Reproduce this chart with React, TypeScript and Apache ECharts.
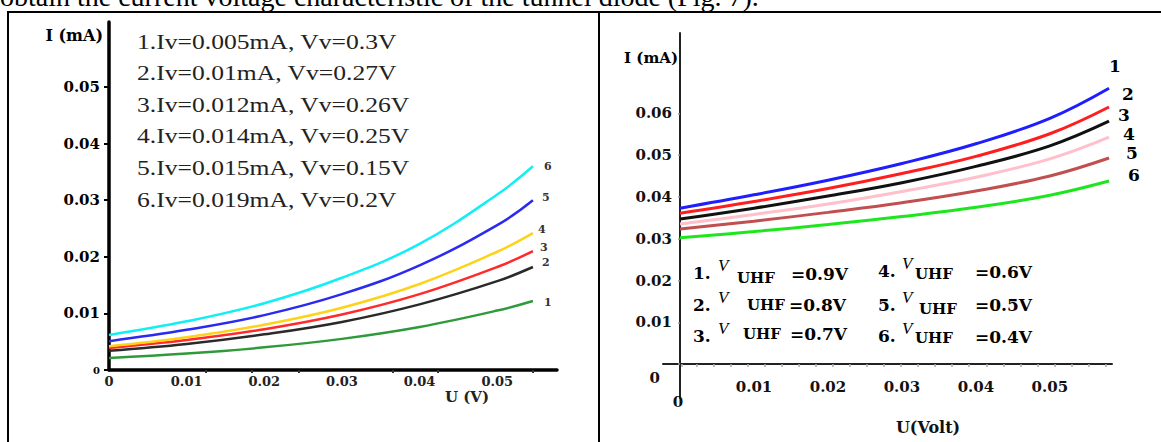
import React, { useEffect, useRef } from "react";
import * as echarts from "echarts";

// ---------- DATA ----------
const pageText = "obtain the current voltage characteristic of the tunnel diode (Fig. 7).";

// Left chart (U in V, I in mA)
const leftU = [0, 0.01, 0.02, 0.03, 0.04, 0.05, 0.0546];
const leftCurve1 = [0.0021, 0.0029, 0.004, 0.0055, 0.0076, 0.0105, 0.0122];
const leftCurve2 = [0.0034, 0.0046, 0.0063, 0.0085, 0.0116, 0.0157, 0.0182];
const leftCurve3 = [0.0039, 0.0053, 0.0072, 0.0098, 0.0134, 0.0182, 0.021];
const leftCurve4 = [0.0042, 0.0058, 0.008, 0.011, 0.0152, 0.0209, 0.0242];
const leftCurve5 = [0.0051, 0.0071, 0.0097, 0.0134, 0.0185, 0.0256, 0.03];
const leftCurve6 = [0.0062, 0.0086, 0.0118, 0.0163, 0.0223, 0.031, 0.036];
const leftCurveNames = ["1", "2", "3", "4", "5", "6"];
const leftLegend = [
  "1.Iv=0.005mA, Vv=0.3V",
  "2.Iv=0.01mA, Vv=0.27V",
  "3.Iv=0.012mA, Vv=0.26V",
  "4.Iv=0.014mA, Vv=0.25V",
  "5.Iv=0.015mA, Vv=0.15V",
  "6.Iv=0.019mA, Vv=0.2V",
];
const leftXLabels = [0, 0.01, 0.02, 0.03, 0.04, 0.05];
const leftXTickMarks = [0.0124, 0.0184, 0.0245, 0.0366, 0.0424, 0.0546];
const leftYLabels = [0, 0.01, 0.02, 0.03, 0.04, 0.05];
const leftYName = "I (mA)";
const leftXName = "U (V)";

// Right chart
const rightU = [0, 0.01, 0.02, 0.03, 0.04, 0.05, 0.058];
const rightCurve1 = [0.0373, 0.0405, 0.044, 0.048, 0.0527, 0.0588, 0.066];
const rightCurve2 = [0.0361, 0.0389, 0.042, 0.0456, 0.0497, 0.0551, 0.0615];
const rightCurve3 = [0.0347, 0.0373, 0.0402, 0.0434, 0.0473, 0.0522, 0.0581];
const rightCurve4 = [0.0335, 0.0358, 0.0383, 0.0413, 0.0447, 0.0491, 0.0543];
const rightCurve5 = [0.0323, 0.0342, 0.0363, 0.0386, 0.0414, 0.045, 0.0493];
const rightCurve6 = [0.0302, 0.0317, 0.0334, 0.0353, 0.0375, 0.0404, 0.0438];
const rightCurveNames = ["1", "2", "3", "4", "5", "6"];
const rightLegendNums = ["1.", "2.", "3.", "4.", "5.", "6."];
const rightLegendSymbol = "V";
const rightLegendSub = "UHF";
const rightLegendValues = ["=0.9V", "=0.8V", "=0.7V", "=0.6V", "=0.5V", "=0.4V"];
const rightXLabels = [0, 0.01, 0.02, 0.03, 0.04, 0.05];
const rightXTickMarks = [
  0.0003, 0.0023, 0.0046, 0.0069, 0.0092, 0.0115, 0.0138, 0.0161, 0.0184, 0.0207,
  0.023, 0.0253, 0.0276, 0.0299, 0.0322, 0.0345, 0.0368, 0.0391, 0.0414, 0.0437,
  0.046, 0.0483, 0.0506, 0.0529, 0.0552, 0.0575,
];
const rightYLabels = [0, 0.01, 0.02, 0.03, 0.04, 0.05, 0.06];
const rightYName = "I (mA)";
const rightXName = "U(Volt)";

// ---------- STYLE / LAYOUT ----------
const leftColors = ["#2f9a3a", "#2a2a2a", "#ff2a2a", "#ffd21a", "#2a2af0", "#12eef6"];
const rightColors = ["#1e1eff", "#ff1e1e", "#111111", "#ffc0cb", "#c05050", "#1ee61e"];
const leftLabelOffsets = [[6, 2], [4, -5], [2, -4], [0, -4], [4, -3], [6, 0]];
const rightLabelOffsets = [[-5, -22], [8, -13], [4, -6], [9, -3], [12, -5], [14, -6]];
const rightLegendLayout = [
  { nx: 693, ny: 273, vx: 718, vy: 265, ux: 737, uy: 278, ex: 791, ey: 274 },
  { nx: 693, ny: 305, vx: 718, vy: 297, ux: 747, uy: 305, ex: 789, ey: 305 },
  { nx: 693, ny: 336, vx: 718, vy: 328, ux: 743, uy: 334, ex: 790, ey: 334 },
  { nx: 878, ny: 271, vx: 902, vy: 263, ux: 915, uy: 274, ex: 975, ey: 272 },
  { nx: 878, ny: 305, vx: 902, vy: 297, ux: 919, uy: 309, ex: 975, ey: 305 },
  { nx: 878, ny: 336, vx: 902, vy: 328, ux: 915, uy: 338, ex: 975, ey: 337 },
];
const SERIF_B = "DejaVu Serif";

export default function App() {
  const ref = useRef<HTMLDivElement>(null);

  useEffect(() => {
    if (!ref.current) return;
    const chart = echarts.init(ref.current, undefined, { renderer: "svg" });

    const leftCurves = [leftCurve1, leftCurve2, leftCurve3, leftCurve4, leftCurve5, leftCurve6];
    const rightCurves = [rightCurve1, rightCurve2, rightCurve3, rightCurve4, rightCurve5, rightCurve6];

    const makeSeries = (
      curves: number[][], xs: number[], names: string[], colors: string[],
      offsets: number[][], idx: number, width: number, labelStyle: any
    ) =>
      curves.map((ys, i) => ({
        name: names[i],
        type: "line",
        xAxisIndex: idx,
        yAxisIndex: idx,
        smooth: 0.4,
        symbol: "circle",
        symbolSize: 0,
        showSymbol: true,
        silent: true,
        lineStyle: { color: colors[i], width },
        itemStyle: { color: colors[i] },
        label: { show: false },
        emphasis: { disabled: true },
        data: ys.map((y, j) =>
          j === ys.length - 1
            ? {
                value: [xs[j], y],
                label: {
                  show: true,
                  position: "right",
                  distance: 5,
                  offset: offsets[i],
                  formatter: names[i],
                  ...labelStyle,
                },
              }
            : [xs[j], y]
        ),
      }));

    const graphics: any[] = [];
    graphics.push({
      type: "text", x: 0, y: -4,
      style: { text: pageText, fontFamily: "Liberation Serif", fontSize: 28, fill: "#000", align: "left", verticalAlign: "middle" },
    });
    graphics.push({ type: "line", shape: { x1: 7, y1: 12, x2: 1161, y2: 12 }, style: { stroke: "#000", lineWidth: 2 } });
    graphics.push({ type: "line", shape: { x1: 8, y1: 11, x2: 8, y2: 442 }, style: { stroke: "#000", lineWidth: 2 } });
    graphics.push({ type: "line", shape: { x1: 599, y1: 11, x2: 599, y2: 442 }, style: { stroke: "#000", lineWidth: 2 } });

    leftLegend.forEach((t, i) => {
      graphics.push({
        type: "text", x: 137, y: 42 + i * 31.6, scaleX: 1.28,
        style: { text: t, fontFamily: "Liberation Serif", fontSize: 20, fill: "#222", align: "left", verticalAlign: "middle" },
      });
    });

    rightLegendNums.forEach((n, i) => {
      const L = rightLegendLayout[i];
      graphics.push({ type: "text", x: L.nx, y: L.ny, style: { text: n, fontFamily: SERIF_B, fontWeight: "bold", fontSize: 17, fill: "#000", align: "left", verticalAlign: "middle" } });
      graphics.push({ type: "text", x: L.vx, y: L.vy, style: { text: rightLegendSymbol, fontFamily: "Liberation Serif", fontStyle: "italic", fontSize: 17, fill: "#000", align: "left", verticalAlign: "middle" } });
      graphics.push({ type: "text", x: L.ux, y: L.uy, style: { text: rightLegendSub, fontFamily: SERIF_B, fontWeight: "bold", fontSize: 15, fill: "#000", align: "left", verticalAlign: "middle" } });
      graphics.push({ type: "text", x: L.ex, y: L.ey, style: { text: rightLegendValues[i], fontFamily: SERIF_B, fontWeight: "bold", fontSize: 17, fill: "#000", align: "left", verticalAlign: "middle" } });
    });

    graphics.push({ type: "text", x: 103, y: 35, style: { text: leftYName, fontFamily: SERIF_B, fontWeight: "bold", fontSize: 16, fill: "#000", align: "right", verticalAlign: "middle" } });
    graphics.push({ type: "text", x: 467, y: 397, style: { text: leftXName, fontFamily: SERIF_B, fontWeight: "bold", fontSize: 15, fill: "#222", align: "center", verticalAlign: "middle" } });
    graphics.push({ type: "text", x: 678, y: 58, style: { text: rightYName, fontFamily: SERIF_B, fontWeight: "bold", fontSize: 15, fill: "#000", align: "right", verticalAlign: "middle" } });
    graphics.push({ type: "text", x: 928, y: 427, style: { text: rightXName, fontFamily: SERIF_B, fontWeight: "bold", fontSize: 16, fill: "#111", align: "center", verticalAlign: "middle" } });

    const fmt2 = (v: number) => v.toFixed(2);

    chart.setOption({
      animation: false,
      backgroundColor: "#fff",
      graphic: graphics,
      grid: [
        { left: 109, top: 22, width: 448, height: 348, containLabel: false, outerBoundsMode: "none" },
        { left: 663, top: 33, width: 449, height: 365, containLabel: false, outerBoundsMode: "none" },
      ],
      xAxis: [
        {
          gridIndex: 0, type: "value", min: 0, max: 0.0577,
          splitLine: { show: false },
          axisLine: { lineStyle: { color: "#000", width: 3.5 } },
          axisTick: { show: true, customValues: leftXTickMarks, length: 3, lineStyle: { color: "#333", width: 2 } },
          axisLabel: {
            customValues: leftXLabels, margin: 5, color: "#222",
            fontFamily: SERIF_B, fontWeight: "bold", fontSize: 13,
            formatter: (v: number) => (v === 0 ? "0" : fmt2(v)),
          },
        },
        {
          gridIndex: 1, type: "value", min: -0.0023, max: 0.0584,
          position: "bottom", offset: -34,
          splitLine: { show: false },
          axisLine: { onZero: false, lineStyle: { color: "#222", width: 2 } },
          axisTick: { show: true, customValues: rightXTickMarks, length: 3, lineStyle: { color: "#aaa", width: 1.5 } },
          axisLabel: {
            customValues: rightXLabels, margin: 15, color: "#111",
            fontFamily: SERIF_B, fontWeight: "bold", fontSize: 15,
            formatter: (v: number) => (v === 0 ? "{z|0}" : fmt2(v)),
            rich: { z: { padding: [15, 4, 0, 0], fontFamily: SERIF_B, fontWeight: "bold", fontSize: 15, color: "#111" } },
          },
        },
      ],
      yAxis: [
        {
          gridIndex: 0, type: "value", min: 0, max: 0.0615,
          splitLine: { show: false },
          axisLine: { lineStyle: { color: "#000", width: 3.5 } },
          axisTick: { show: true, customValues: leftYLabels, length: 5, lineStyle: { color: "#000", width: 2 } },
          axisLabel: {
            customValues: leftYLabels, margin: 9, color: "#000",
            fontFamily: SERIF_B, fontWeight: "bold", fontSize: 15,
            formatter: (v: number) => (v === 0 ? "{s|0}" : fmt2(v)),
            rich: { s: { fontFamily: SERIF_B, fontWeight: "bold", fontSize: 10, color: "#000" } },
          },
        },
        {
          gridIndex: 1, type: "value", min: -0.0081, max: 0.0792,
          position: "left", offset: -17,
          splitLine: { show: false },
          axisLine: { onZero: false, lineStyle: { color: "#222", width: 2 } },
          axisTick: { show: true, customValues: rightYLabels, length: 2, lineStyle: { color: "#999", width: 1.5 } },
          axisLabel: {
            customValues: rightYLabels, margin: 8, color: "#111",
            fontFamily: SERIF_B, fontWeight: "bold", fontSize: 15,
            formatter: (v: number) => (v === 0 ? "{z|0}" : fmt2(v)),
            rich: { z: { padding: [28, 12, 0, 0], fontFamily: SERIF_B, fontWeight: "bold", fontSize: 15, color: "#111" } },
          },
        },
      ],
      series: [
        ...makeSeries(leftCurves, leftU, leftCurveNames, leftColors, leftLabelOffsets, 0, 2.5,
          { fontFamily: SERIF_B, fontWeight: "bold", fontSize: 11, color: "#333" }),
        ...makeSeries(rightCurves, rightU, rightCurveNames, rightColors, rightLabelOffsets, 1, 3,
          { fontFamily: SERIF_B, fontWeight: "bold", fontSize: 17, color: "#000" }),
      ],
    });

    return () => chart.dispose();
  }, []);

  return (
    <div
      ref={ref}
      style={{ position: "fixed", left: 0, top: 0, width: 1161, height: 442, background: "#fff" }}
    />
  );
}
